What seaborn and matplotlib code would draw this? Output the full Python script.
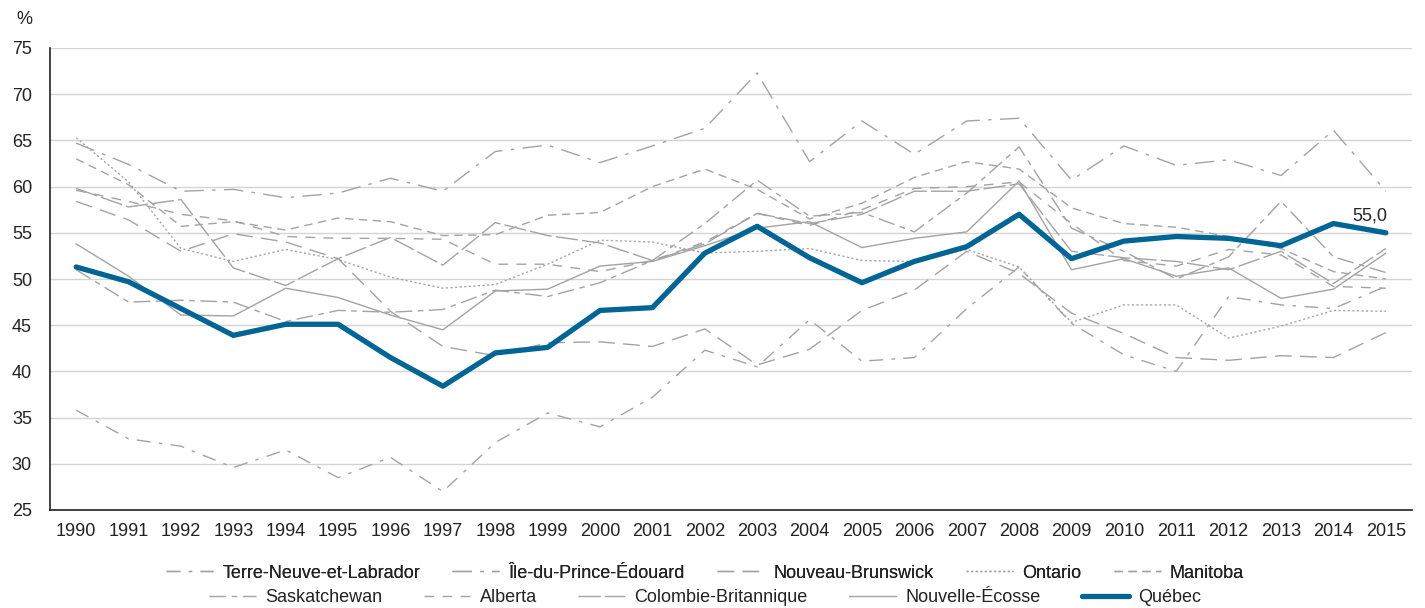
import numpy as np
import pandas as pd
import matplotlib
matplotlib.use('Agg')
import matplotlib.pyplot as plt
import seaborn as sns
from matplotlib.lines import Line2D

years = list(range(1990, 2016))

tnl = [35.8, 32.7, 31.9, 29.6, 31.5, 28.5, 30.7, 27.0, 32.3, 35.5, 34.0, 37.2, 42.3, 40.5, 45.6, 41.1, 41.5, 46.8, 51.3, 45.2, 41.8, 40.0, 48.1, 47.2, 46.8, 49.2]
ipe = [64.7, 62.4, 59.5, 59.7, 58.8, 59.3, 60.9, 59.5, 63.8, 64.5, 62.6, 64.4, 66.3, 72.3, 62.7, 67.1, 63.5, 67.1, 67.4, 60.7, 64.4, 62.3, 62.9, 61.2, 66.1, 59.5]
nb = [58.4, 56.4, 53.0, 54.9, 54.0, 52.2, 46.5, 42.7, 41.7, 43.1, 43.2, 42.7, 44.6, 40.7, 42.4, 46.6, 48.8, 53.0, 50.6, 46.3, 44.1, 41.5, 41.2, 41.7, 41.5, 44.2]
ont = [65.3, 60.5, 53.3, 51.9, 53.2, 52.1, 50.2, 49.0, 49.4, 51.6, 54.2, 54.0, 52.8, 53.0, 53.3, 52.0, 51.9, 53.2, 51.3, 45.3, 47.2, 47.2, 43.6, 44.9, 46.6, 46.5]
man = [63.0, 60.2, 55.7, 56.2, 55.3, 56.6, 56.2, 54.7, 54.8, 56.9, 57.2, 60.0, 61.9, 59.7, 56.5, 58.2, 61.0, 62.7, 61.9, 57.7, 56.0, 55.6, 54.6, 53.3, 50.8, 50.0]
sask = [51.0, 47.5, 47.7, 47.5, 45.4, 46.6, 46.4, 46.7, 48.8, 48.1, 49.6, 52.0, 56.0, 60.7, 56.8, 57.2, 55.1, 59.3, 64.3, 55.5, 53.0, 50.0, 52.4, 58.4, 52.4, 50.7]
alb = [59.6, 58.4, 57.0, 56.3, 54.6, 54.4, 54.4, 54.3, 51.6, 51.6, 50.8, 52.0, 54.0, 57.1, 55.8, 57.5, 59.8, 60.0, 60.5, 56.0, 52.0, 51.4, 53.2, 52.6, 49.2, 49.0]
cb = [59.8, 57.8, 58.6, 51.2, 49.3, 52.2, 54.5, 51.5, 56.1, 54.7, 53.9, 52.0, 53.8, 57.1, 56.0, 57.0, 59.5, 59.5, 60.3, 53.0, 52.3, 51.9, 51.0, 53.0, 49.5, 53.3]
ne = [53.8, 50.3, 46.1, 46.0, 49.0, 48.0, 46.1, 44.5, 48.7, 48.9, 51.4, 51.9, 53.6, 55.5, 56.2, 53.4, 54.4, 55.1, 60.6, 51.0, 52.2, 50.3, 51.2, 47.9, 48.9, 52.8]
qc = [51.3, 49.7, 46.8, 43.9, 45.1, 45.1, 41.5, 38.4, 42.0, 42.6, 46.6, 46.9, 52.8, 55.7, 52.3, 49.6, 51.9, 53.5, 57.0, 52.2, 54.1, 54.6, 54.4, 53.6, 56.0, 55.0]

names = ["Terre-Neuve-et-Labrador", "Île-du-Prince-Édouard", "Nouveau-Brunswick", "Ontario",
         "Manitoba", "Saskatchewan", "Alberta", "Colombie-Britannique", "Nouvelle-Écosse", "Québec"]
series = [tnl, ipe, nb, ont, man, sask, alb, cb, ne, qc]

grey = '#a3a3a3'
blue = '#006494'
styles = {
    "Terre-Neuve-et-Labrador": (0, (10, 6, 2.5, 6)),
    "Île-du-Prince-Édouard": (0, (14, 6, 2.5, 6)),
    "Nouveau-Brunswick": (0, (12, 6)),
    "Ontario": (0, (1.5, 1.8)),
    "Manitoba": (0, (6, 4)),
    "Saskatchewan": (0, (12, 4, 4, 4)),
    "Alberta": (0, (7, 6)),
    "Colombie-Britannique": (0, (16, 3)),
    "Nouvelle-Écosse": '-',
    "Québec": '-',
}

rows = []
for n, s in zip(names, series):
    for i, (y, v) in enumerate(zip(years, s)):
        rows.append({"prov": n, "idx": i, "year": y, "val": v})
df = pd.DataFrame(rows)

sns.set_theme(style='white')
plt.rcParams['font.family'] = ['Liberation Sans', 'DejaVu Sans']

fig = plt.figure(figsize=(14.25, 6.08), dpi=100)
ax = fig.add_axes([50/1425, 1-510/608, 1362/1425, 462/608])

for n in names:
    sub = df[df.prov == n]
    if n == "Québec":
        sns.lineplot(data=sub, x='idx', y='val', ax=ax, color=blue, lw=3.8,
                     solid_capstyle='round', solid_joinstyle='round', zorder=5, legend=False)
    else:
        sns.lineplot(data=sub, x='idx', y='val', ax=ax, color=grey, lw=1.0,
                     linestyle=styles[n], zorder=3, legend=False)

ax.set_xlim(-0.5, 25.5)
ax.set_ylim(25, 75)
ax.set_yticks(np.arange(25, 76, 5))
ax.set_xticks(range(len(years)))
ax.set_xticklabels([str(y) for y in years])
ax.set_xticks(np.arange(-0.5, 25.6, 1), minor=True)
ax.tick_params(axis='x', which='major', length=0, pad=9, labelsize=13, colors='#222222')
ax.tick_params(axis='x', which='minor', length=8, width=1.0, color='#333333', direction='out')
ax.tick_params(axis='y', which='major', length=7, width=1.0, color='#333333', direction='out',
               labelsize=13, colors='#222222', pad=6)
ax.set_xlabel('')
ax.set_ylabel('')
ax.yaxis.grid(True, color='#d4d4d4', lw=1.0)
ax.set_axisbelow(True)
for sp in ['top', 'right']:
    ax.spines[sp].set_visible(False)
for sp in ['left', 'bottom']:
    ax.spines[sp].set_color('#222222')
    ax.spines[sp].set_linewidth(1.2)

ax.annotate('55,0', xy=(25, qc[-1]), xytext=(1, 6), textcoords='offset points',
            ha='right', va='bottom', fontsize=13, color='#222222')

fig.text(16/1425, 1-20/608, '%', fontsize=13, color='#222222', va='center', ha='left')

def handle(n):
    if n == "Québec":
        return Line2D([], [], color=blue, lw=3.8, solid_capstyle='round')
    return Line2D([], [], color=grey, lw=1.0, linestyle=styles[n])

row1 = names[:5]
row2 = names[5:]
leg1 = fig.legend(handles=[handle(n) for n in row1], labels=row1, loc='center',
                  bbox_to_anchor=(705/1425, 1-573/608), ncol=5, frameon=False,
                  handlelength=2.6, columnspacing=1.8, handletextpad=0.5, fontsize=13,
                  labelcolor='#222222')
fig.add_artist(leg1)
leg2 = fig.legend(handles=[handle(n) for n in row2], labels=row2, loc='center',
                  bbox_to_anchor=(705/1425, 1-598/608), ncol=5, frameon=False,
                  handlelength=2.6, columnspacing=2.3, handletextpad=0.5, fontsize=13,
                  labelcolor='#222222')

fig.savefig('out.png', dpi=100)
